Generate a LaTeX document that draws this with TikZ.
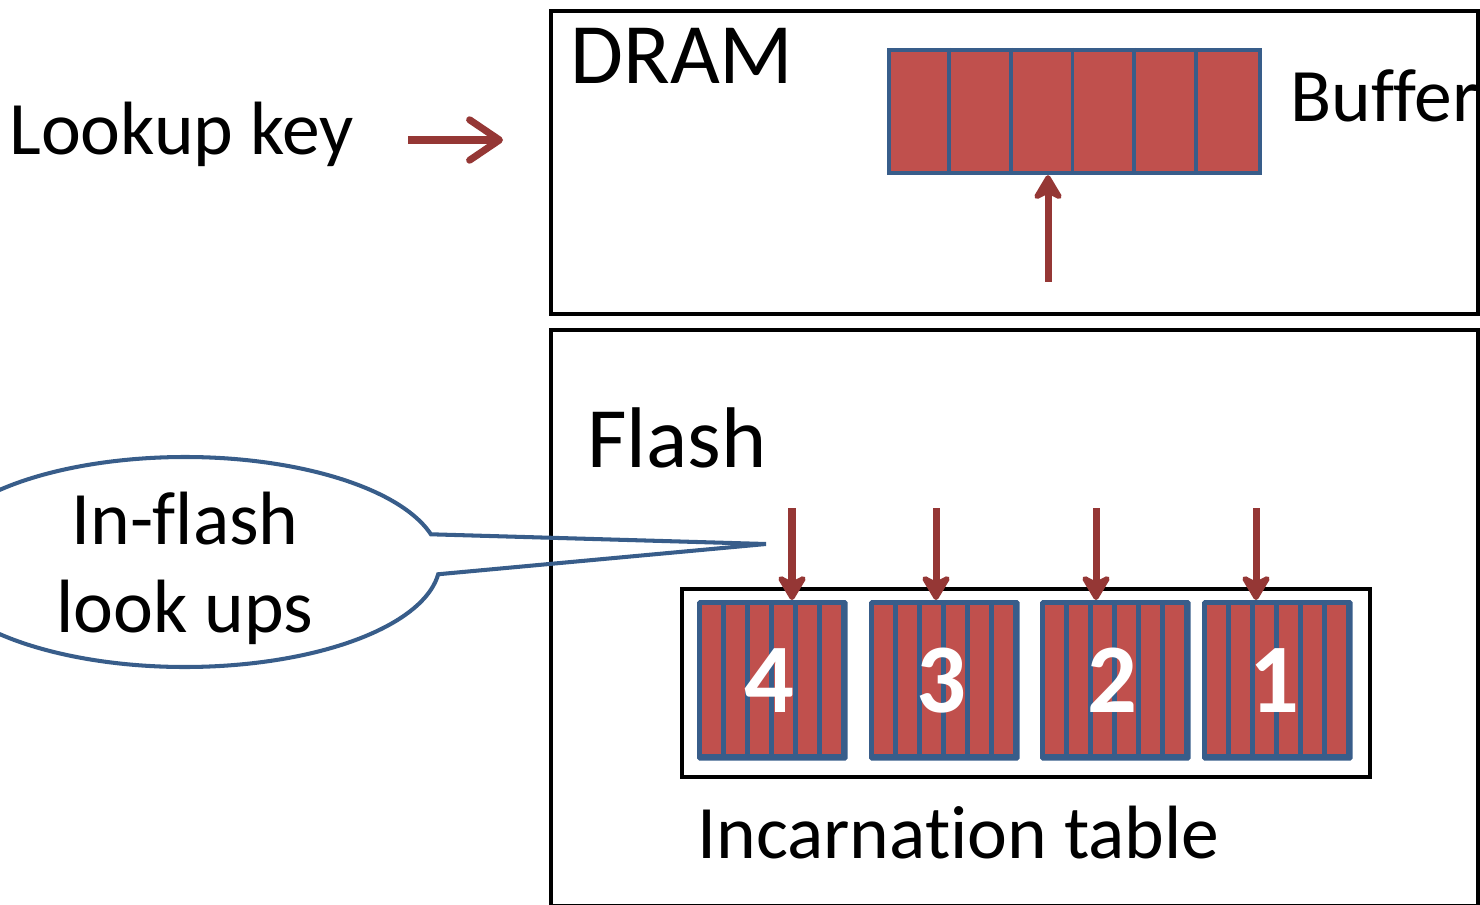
\documentclass[tikz,border=0pt]{standalone}
\usepackage{fontspec}
\setmainfont[Ligatures={NoCommon}]{Carlito}
\usetikzlibrary{arrows.meta,shapes.callouts}
\definecolor{cellred}{HTML}{C0504D}
\definecolor{lineblue}{HTML}{385D8A}
\definecolor{arrowred}{HTML}{953735}

\begin{document}
\begin{tikzpicture}[x=0.02cm, y=-0.02cm,
  memline/.style={draw=black, line width=2.4pt},
  bigtext/.style={inner sep=0pt, anchor=base west, font=\fontsize{49}{58}\selectfont},
  labeltext/.style={inner sep=0pt, anchor=base west, font=\fontsize{43}{50}\selectfont},
  feed/.style={draw=arrowred, line width=4pt, -{Stealth[length=17pt, width=20pt, inset=5pt, round]}},
  bufcells/.style={fill=cellred, draw=lineblue, line width=2.4pt}]
\useasboundingbox (0,0) rectangle (1480,905);
\clip (0,0) rectangle (1480,905);

% DRAM and flash
\draw[memline] (551,11) rectangle (1478,314);
\draw[memline] (551,330) rectangle (1478,906);
\node[bigtext] (dram) at (570,84) {DRAM};
\node[bigtext] (flash) at (587,467) {Flash};

% lookup key
\node[labeltext] (key) at (9,155) {Lookup key};
\coordinate (keyin) at (408,140);
\coordinate (keyout) at (503,140);
\draw[draw=arrowred, line width=4pt, -{Straight Barb[length=17pt, width=23pt, round]}] (keyin) -- (keyout);

% buffer
\node[bufcells, minimum width=7.42cm, minimum height=2.46cm, anchor=north west, inner sep=0pt] (buffer) at (887,48) {};
\foreach \i in {1,...,5}
  \draw[draw=lineblue, line width=2.2pt] ({887+61.83*\i},48) -- ({887+61.83*\i},171);
\node[labeltext] (buflabel) at (1290,122) {Buffer};
\coordinate (bufin) at (1048,282);
\draw[feed] (bufin) -- (bufin |- buffer.south);

% incarnation table
\node[draw=black, line width=2.4pt, minimum width=13.76cm, minimum height=3.76cm, anchor=north west, inner sep=0pt] (table) at (680,587) {};
\foreach \bx/\num/\ax in {697/4/792, 869/3/936, 1040/2/1096, 1202/1/1256} {
  \node[fill=lineblue, draw=lineblue, line width=1pt, rounded corners=1pt, minimum width=2.98cm, minimum height=3.18cm, anchor=north west, inner sep=0pt] (blk\num) at (\bx,600) {};
  \foreach \s in {0,...,5}
    \fill[cellred] ({\bx+5+24*\s},605) rectangle ({\bx+24+24*\s},754);
  \node[text=white, font={\fontsize{56}{60}\selectfont\bfseries}, inner sep=0pt] (num\num) at ([xshift=-0.06cm]blk\num) {\num};
  \coordinate (probe\num) at (\ax,508);
  \draw[feed] (probe\num) -- (probe\num |- blk\num.north);
}
\node[labeltext] (tablelabel) at (697,858) {Incarnation table};

% callout
\coordinate (lookups) at (766,544);
\node[ellipse callout, draw=lineblue, line width=2.3pt, minimum width=10.2cm, minimum height=4.2cm, inner xsep=0pt, inner ysep=-12pt,
  callout absolute pointer={(lookups)}, callout pointer arc=22, align=center,
  font=\fontsize{43}{50}\selectfont] (bubble) at (185,562) {\rule{0pt}{37pt}In-flash\\look ups};
\end{tikzpicture}
\end{document}
